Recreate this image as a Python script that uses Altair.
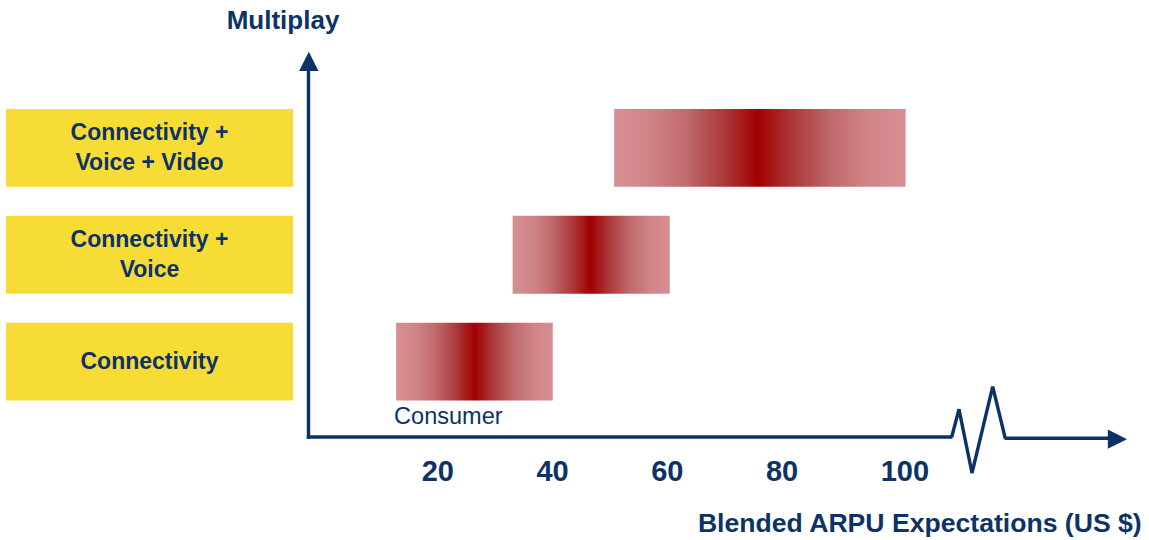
import altair as alt
import pandas as pd

# ---------------- data ----------------
tiers = ["Connectivity + Voice + Video", "Connectivity + Voice", "Connectivity"]
tier_labels = ["Connectivity +\nVoice + Video", "Connectivity +\nVoice", "Connectivity"]
arpu_low = [50.7, 33.0, 12.7]
arpu_peak = [75.8, 46.6, 26.4]
arpu_high = [101.5, 60.4, 40.0]
tick_values = [20, 40, 60, 80, 100]
segment_note = "Consumer"
y_title = "Multiplay"
x_title = "Blended ARPU Expectations (US $)"

# ---------------- style ----------------
NAVY = "#0D3366"
YELLOW = "#F7DC35"
# colour ramp from the light ends to the dark peak (fraction of half-width, colour)
RAMP = [(0.0, "#D78F93"), (0.25, "#D08488"), (0.5, "#C06A6C"),
        (0.75, "#AC3C3E"), (1.0, "#A20000")]
FONT = "Liberation Sans"

df = pd.DataFrame({"tier": tiers, "label": tier_labels,
                   "low": arpu_low, "peak": arpu_peak, "high": arpu_high})
ticks_df = pd.DataFrame({"v": tick_values})
one = alt.Data(values=[{"k": 0}])

x_scale = alt.Scale(domain=[-56.34, 143.92], zero=False, nice=False)
y_scale = alt.Scale(type="band", domain=tiers, range=[109, 400.5],
                    paddingInner=0.272, paddingOuter=0)


def X(f):
    return alt.X(f, scale=x_scale, axis=None)


def Y():
    return alt.Y("tier:N", scale=y_scale, axis=None)


layers = []

# yellow category boxes
layers.append(alt.Chart(df).mark_rect(fill=YELLOW).encode(
    y=Y(), x=alt.value(6), x2=alt.value(293)))
label_style = dict(font=FONT, fontSize=23, fontWeight="bold", color=NAVY,
                   lineBreak="\n", lineHeight=30, align="center", baseline="middle")
layers.append(alt.Chart(df).transform_filter(
    "indexof(datum.label, '\\n') < 0").mark_text(**label_style).encode(
    y=Y(), x=alt.value(149.5), text="label:N"))
layers.append(alt.Chart(df).transform_filter(
    "indexof(datum.label, '\\n') >= 0").mark_text(dy=-15, **label_style).encode(
    y=Y(), x=alt.value(149.5), text="label:N"))

# gradient bars
for t, lo, pk, hi in zip(tiers, arpu_low, arpu_peak, arpu_high):
    off = float((pk - lo) / (hi - lo))
    stops = [alt.GradientStop(offset=f * off, color=c) for f, c in RAMP]
    stops += [alt.GradientStop(offset=1 - f * (1 - off), color=c)
              for f, c in reversed(RAMP[:-1])]
    grad = alt.Gradient(gradient="linear", x1=0, x2=1, y1=0, y2=0, stops=stops)
    layers.append(alt.Chart(df).transform_filter(
        alt.FieldEqualPredicate(field="tier", equal=t)).mark_rect(fill=grad).encode(
        x=X("low:Q"), x2="high:Q", y=Y()))

# consumer note
layers.append(alt.Chart(df).transform_filter(
    alt.FieldEqualPredicate(field="tier", equal="Connectivity")).mark_text(
    text=segment_note, font=FONT, fontSize=23.5, color=NAVY, align="left",
    baseline="alphabetic", dx=-2).encode(x=X("low:Q"), y=alt.value(424)))

# axes
layers.append(alt.Chart(one).mark_rule(color=NAVY, strokeWidth=3.4).encode(
    x=alt.value(308.5), y=alt.value(68), y2=alt.value(438.8)))
layers.append(alt.Chart(one).mark_rule(color=NAVY, strokeWidth=3.6).encode(
    x=alt.value(306.8), x2=alt.value(952.5), y=alt.value(437)))
layers.append(alt.Chart(one).mark_rule(color=NAVY, strokeWidth=3.6).encode(
    x=alt.value(1004.5), x2=alt.value(1110), y=alt.value(438.3)))
ZIG = "M-0.536,0.14L-0.39,-0.414L-0.13,0.86L0.284,-0.866L0.536,0.17"
layers.append(alt.Chart(one).mark_point(
    shape=ZIG, size=10000, filled=False, color=NAVY, strokeWidth=3.4,
    opacity=1).encode(x=alt.value(978.5), y=alt.value(430)))
layers.append(alt.Chart(one).mark_point(
    shape="M0,-1L1,1L-1,1Z", size=376, filled=True, color=NAVY, opacity=1,
    strokeWidth=0).encode(x=alt.value(308.8), y=alt.value(61.4)))
layers.append(alt.Chart(one).mark_point(
    shape="M1,0L-1,-1L-1,1Z", size=370, filled=True, color=NAVY, opacity=1,
    strokeWidth=0).encode(x=alt.value(1117.4), y=alt.value(439.2)))

# tick labels
layers.append(alt.Chart(ticks_df).mark_text(
    font=FONT, fontSize=29, fontWeight="bold", color=NAVY, align="left",
    baseline="alphabetic", dx=-16.3).encode(
    x=X("v:Q"), y=alt.value(481), text="v:Q"))

# titles
layers.append(alt.Chart(one).mark_text(
    text=y_title, font=FONT, fontSize=26, fontWeight="bold", color=NAVY,
    align="center", baseline="alphabetic").encode(
    x=alt.value(283), y=alt.value(29.3)))
layers.append(alt.Chart(one).mark_text(
    text=x_title, font=FONT, fontSize=26.6, fontWeight="bold", color=NAVY,
    align="right", baseline="alphabetic").encode(
    x=alt.value(1141.7), y=alt.value(532)))

chart = alt.layer(*layers).properties(
    width=1149, height=540,
    autosize=alt.AutoSizeParams(type="none"),
    padding=0, background="white",
).configure_view(strokeWidth=0)

chart.save("out.html", embed_options={"renderer": "svg", "actions": False})
